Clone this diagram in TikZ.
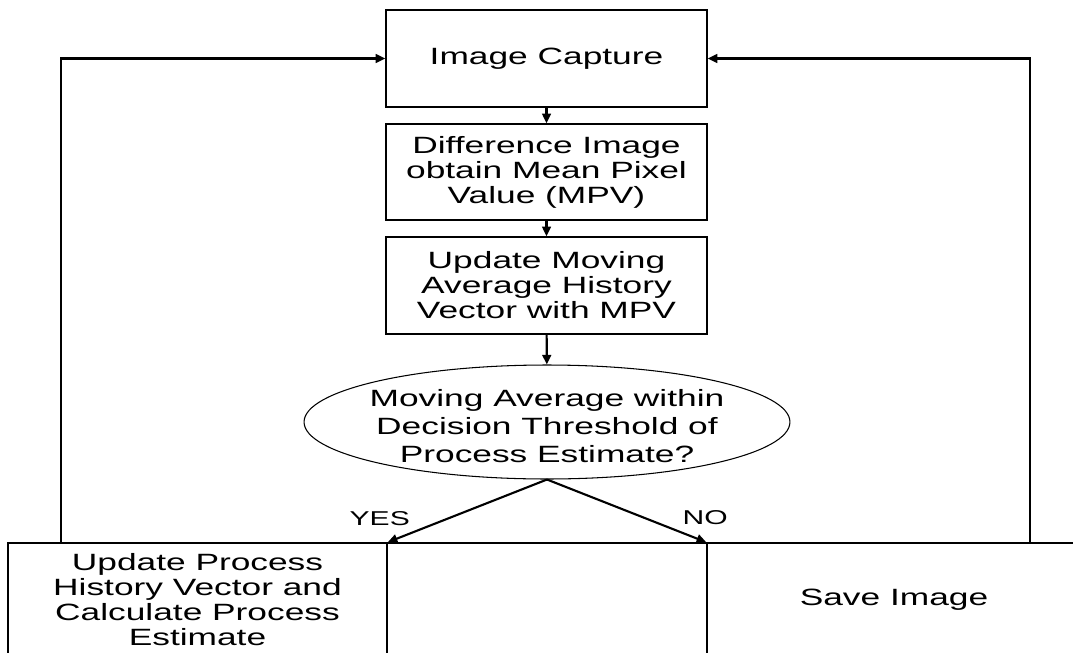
\documentclass[tikz,border=0pt]{standalone}
\usepackage{fontspec}
\setmainfont{Liberation Sans}[FakeStretch=1.5]
\usetikzlibrary{arrows.meta,shapes.geometric}

\begin{document}
\begin{tikzpicture}[x=0.02cm, y=-0.02cm,
  box/.style={draw, line width=0.9pt, align=center, inner sep=0pt, font=\fontsize{13.4}{14.2}\selectfont},
  lower/.style={box, minimum height=2.28cm},
  decide/.style={draw, ellipse, line width=0.6pt, inner sep=0pt, minimum width=9.72cm, minimum height=2.28cm},
  flow/.style={-{Triangle[length=5.5pt,width=5pt]}, line width=1.2pt},
  tag/.style={inner sep=0pt, anchor=base, font=\fontsize{11.4}{12}\selectfont}]
\useasboundingbox (0,0) rectangle (1073,653);
\clip (0,0) rectangle (1073,653);

\node[box, minimum width=6.42cm, minimum height=1.94cm] (cap) at (546.5,58.5) {Image Capture};
\node[box, minimum width=6.42cm, minimum height=1.92cm] (diff) at (546.5,172) {Difference Image\\obtain Mean Pixel\\Value (MPV)};
\node[box, minimum width=6.42cm, minimum height=1.94cm] (upd) at (546.5,285.5) {Update Moving\\Average History\\Vector with MPV};
\node[decide, label={[align=center, font=\fontsize{13.4}{15.9}\selectfont, yshift=-0.08cm]center:{Moving Average within\\Decision Threshold of\\Process Estimate?}}] (dec) at (547,422) {};

\node[lower, minimum width=7.58cm] (lft) at (197.5,600) {Update Process\\History Vector and\\Calculate Process\\Estimate};
\node[lower, minimum width=6.4cm] (mid) at (547,600) {};
\node[lower, minimum width=7.48cm] (rgt) at (894,600) {Save Image};

\draw[flow] (cap) -- (diff);
\draw[flow] (diff) -- (upd);
\draw[flow] (upd) -- (dec);
\draw[flow] (dec.south) -- (lft.north east) node[tag, xshift=-0.16cm, yshift=0.33cm] {YES};
\draw[flow] (dec.south) -- (rgt.north west) node[tag, xshift=-0.02cm, yshift=0.35cm] {NO};

\draw[flow] ([xshift=1.08cm]lft.north west) |- (cap.west);
\draw[flow] ([xshift=-1.04cm]rgt.north east) |- (cap.east);
%\draw (current bounding box.south west) rectangle (current bounding box.north east);
\end{tikzpicture}
\end{document}
